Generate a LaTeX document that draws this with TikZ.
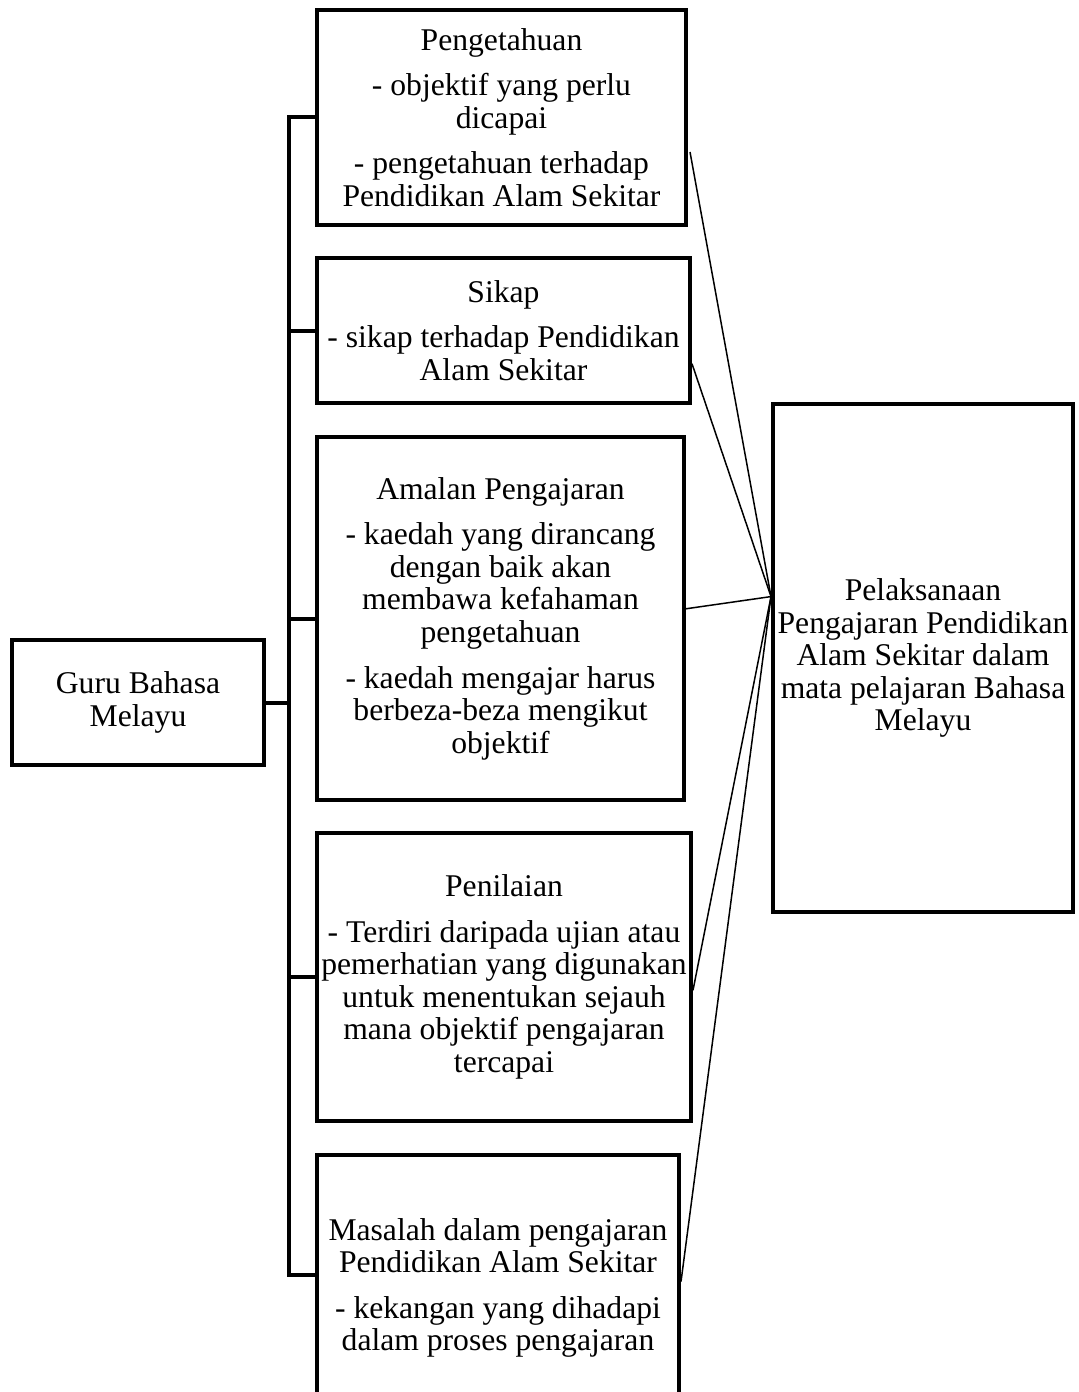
\documentclass[tikz,border=0pt]{standalone}
\usepackage{fontspec}
\setmainfont{Liberation Serif}
\usepackage{tikz}
\usetikzlibrary{positioning}

\begin{document}
\begin{tikzpicture}[x=0.02cm,y=-0.02cm,
  box/.style={draw, line width=0.08cm, inner sep=0pt, align=center,
    font=\fontsize{18}{18.5}\selectfont},
  bar/.style={line width=0.08cm},
  link/.style={line width=0.03cm}]

  \useasboundingbox (0,0) rectangle (1078,1392);

  \begin{scope}

  \node[box, minimum width=252*0.02cm, minimum height=125*0.02cm] (guru) at (138,702.5)
      {Guru Bahasa\\Melayu};

  \node[box, minimum width=369*0.02cm, minimum height=215*0.02cm] (peng) at (501.5,117.5)
      {Pengetahuan\\[7.5pt]- objektif yang perlu\\dicapai\\[7.5pt]- pengetahuan terhadap\\Pendidikan Alam Sekitar};
  \node[box, minimum width=373*0.02cm, minimum height=145*0.02cm] (sikap) at (503.5,330.5)
      {Sikap\\[7.5pt]- sikap terhadap Pendidikan\\Alam Sekitar};
  \node[box, minimum width=367*0.02cm, minimum height=363*0.02cm] (amalan) at (500.5,618.5)
      {Amalan Pengajaran\\[7.5pt]- kaedah yang dirancang\\dengan baik akan\\membawa kefahaman\\pengetahuan\\[7.5pt]- kaedah mengajar harus\\berbeza-beza mengikut\\objektif};
  \node[box, minimum width=374*0.02cm, minimum height=288*0.02cm] (nilai) at (504,977)
      {Penilaian\\[7.5pt]- Terdiri daripada ujian atau\\pemerhatian yang digunakan\\untuk menentukan sejauh\\mana objektif pengajaran\\tercapai};
  \node[box, minimum width=362*0.02cm, minimum height=266*0.02cm] (masalah) at (498,1288)
      {Masalah dalam pengajaran\\Pendidikan Alam Sekitar\\[7.5pt]- kekangan yang dihadapi\\dalam proses pengajaran};

  \node[box, minimum width=300*0.02cm, minimum height=508*0.02cm] (laksana) at (923,658)
      {Pelaksanaan\\Pengajaran Pendidikan\\Alam Sekitar dalam\\mata pelajaran Bahasa\\Melayu};

  % tree on the left
  \coordinate (top) at (peng.west -| 289,0);
  \coordinate (bot) at (289,1275);
  \draw[bar] (peng.west) -- (top) -- (bot) -- (bot -| masalah.west);
  \draw[bar] (guru.east) -- (guru.east -| top);
  \foreach \b in {sikap,amalan,nilai}
      \draw[bar] (\b.west -| top) -- (\b.west);

  % lines to the right box
  \coordinate (meet) at (laksana.158.5);
  \coordinate (pend) at (690,152);
  \draw[link] (pend) -- (meet);
  \draw[link] (sikap.-10) -- (meet);
  \draw[link] (amalan.3) -- (meet);
  \draw[link] (nilai.-4) -- (meet);
  \draw[link] (masalah.2) -- (meet);

  \end{scope}
\end{tikzpicture}
\end{document}
